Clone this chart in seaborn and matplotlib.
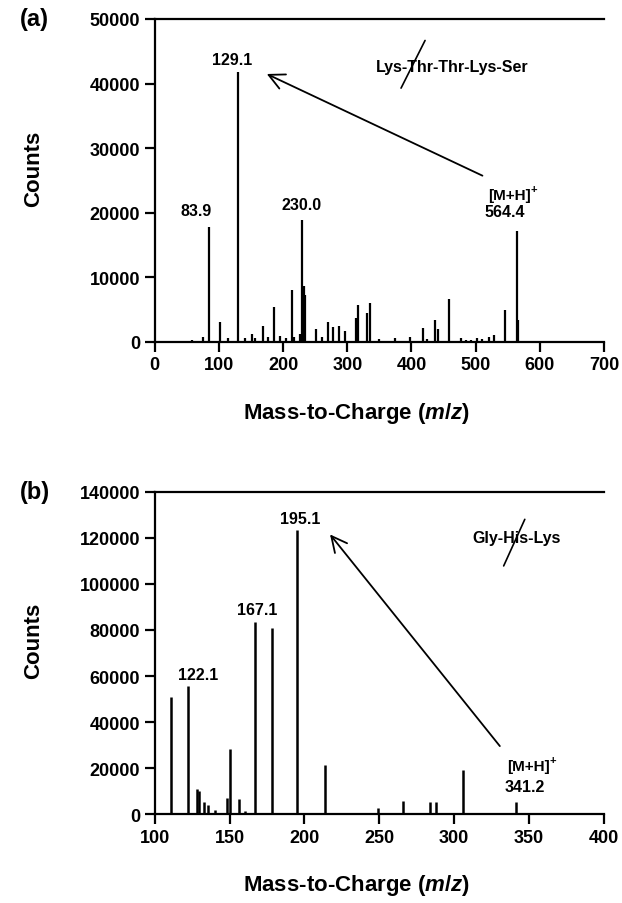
import numpy as np
import pandas as pd
import matplotlib
matplotlib.use("Agg")
import matplotlib.pyplot as plt
import seaborn as sns

# ---------------- data ----------------
# Panel (a): Lys-Thr-Thr-Lys-Ser
mz_a = [57.6, 75.0, 83.9, 101.7, 113.6, 129.1, 140.6, 151.5, 155.8, 168.1, 176.0,
        185.4, 195.7, 204.0, 213.4, 217.0, 226.3, 230.0, 232.6, 234.6, 251.4, 260.0,
        269.5, 277.8, 287.0, 296.0, 313.5, 317.2, 331.2, 335.4, 348.9, 373.8, 397.7,
        418.0, 423.7, 436.1, 440.8, 458.9, 477.6, 485.0, 492.0, 502.0, 510.0, 520.4,
        528.6, 546.3, 564.4, 566.6]
counts_a = [300, 780, 17800, 3060, 620, 41800, 620, 1190, 500, 2430, 670,
            5330, 830, 600, 7970, 770, 1190, 18800, 8700, 7250, 1970, 670,
            3060, 2280, 2480, 1660, 3680, 5750, 4450, 6060, 400, 620, 780,
            2070, 400, 3360, 1910, 6570, 620, 260, 260, 520, 360, 780,
            1030, 4870, 17100, 3300]

# Panel (b): Gly-His-Lys
mz_b = [110.7, 122.1, 128.2, 129.5, 133.0, 135.5, 140.0, 148.0, 150.5, 156.0, 160.0,
        167.1, 178.5, 195.1, 213.7, 249.0, 266.0, 284.0, 288.0, 306.0, 341.2]
counts_b = [50800, 55600, 11000, 10000, 5500, 4000, 2000, 7000, 28400, 6500, 1500,
            83300, 80700, 123400, 21400, 2800, 6000, 5500, 5500, 19300, 5500]

xticks_a = [0, 100, 200, 300, 400, 500, 600, 700]
yticks_a = [0, 10000, 20000, 30000, 40000, 50000]
xticks_b = [100, 150, 200, 250, 300, 350, 400]
yticks_b = [0, 20000, 40000, 60000, 80000, 100000, 120000, 140000]

peak_labels_a = ["83.9", "129.1", "230.0"]
peak_labels_b = ["122.1", "167.1", "195.1"]

# ---------------- style ----------------
sns.set_style("ticks")
plt.rcParams['font.family'] = ['Liberation Sans', 'DejaVu Sans']
plt.rcParams['font.weight'] = 'bold'
plt.rcParams['axes.labelweight'] = 'bold'
plt.rcParams['text.color'] = 'black'
plt.rcParams['axes.labelcolor'] = 'black'
plt.rcParams['xtick.color'] = 'black'
plt.rcParams['ytick.color'] = 'black'
plt.rcParams['mathtext.fontset'] = 'custom'
plt.rcParams['mathtext.rm'] = 'Liberation Sans:bold'
plt.rcParams['mathtext.bf'] = 'Liberation Sans:bold'
plt.rcParams['mathtext.it'] = 'Liberation Sans:italic:bold'

fig = plt.figure(figsize=(6.22, 9.04), dpi=100)
ax_a = fig.add_axes([0.2487, 0.6209, 0.7224, 0.3570])
ax_b = fig.add_axes([0.2487, 0.0980, 0.7224, 0.3570])

df_a = pd.DataFrame({"mz": mz_a, "counts": counts_a})
df_b = pd.DataFrame({"mz": mz_b, "counts": counts_b})

tick_fs = 13
lab_fs = 16

def style_axes(ax, xticks, yticks):
    for side in ["left", "bottom", "top"]:
        ax.spines[side].set_linewidth(1.6)
        ax.spines[side].set_color("black")
    ax.spines["right"].set_visible(False)
    ax.set_xticks(xticks)
    ax.set_yticks(yticks)
    ax.set_xlim(xticks[0], xticks[-1])
    ax.set_ylim(yticks[0], yticks[-1])
    ax.tick_params(axis="both", direction="out", length=7, width=1.6,
                   labelsize=tick_fs, colors="black")
    for lbl in ax.get_xticklabels() + ax.get_yticklabels():
        lbl.set_fontweight("bold")
    ax.set_ylabel("Counts", fontsize=lab_fs, fontweight="bold")
    ax.yaxis.set_label_coords(-0.245, 0.54)
    ax.set_xlabel(r"Mass-to-Charge ($\mathit{m/z}$)", fontsize=lab_fs,
                  fontweight="bold")
    ax.xaxis.set_label_coords(0.45, -0.18)

def mh_label(ax, x, y):
    t = ax.text(x, y, "[M+H]", fontsize=11, fontweight="bold",
                ha="left", va="center")
    ax.annotate("+", xy=(1.0, 0.95), xycoords=t, fontsize=8,
                fontweight="bold", ha="left", va="center")

txt = dict(fontsize=11.5, fontweight="bold", ha="center", va="center")

# ----- panel (a) -----
ax_a.vlines(df_a["mz"], 0, df_a["counts"], color="black", lw=1.6)
style_axes(ax_a, xticks_a, yticks_a)
ax_a.text(64.3, 20300, peak_labels_a[0], **txt)
ax_a.text(120.9, 43700, peak_labels_a[1], **txt)
ax_a.text(229.4, 21200, peak_labels_a[2], **txt)
mh_label(ax_a, 519, 22700)
ax_a.text(545.8, 20100, "564.4", **txt)
ax_a.text(344.7, 42600, "Lys-Thr-Thr-Lys-Ser", fontsize=11.5, fontweight="bold",
          ha="left", va="center")
ax_a.plot([383.8, 421.2], [39290, 46670], color="black", lw=1.2)
ax_a.annotate("", xy=(170.7, 41660), xytext=(514.5, 25540),
              arrowprops=dict(arrowstyle="->", lw=1.3, color="black",
                              mutation_scale=28))
fig.text(0.032, 0.978, "(a)", fontsize=17, fontweight="bold", va="center")

# ----- panel (b) -----
ax_b.vlines(df_b["mz"], 0, df_b["counts"], color="black", lw=1.8)
style_axes(ax_b, xticks_b, yticks_b)
ax_b.text(128.7, 60900, peak_labels_b[0], **txt)
ax_b.text(168.1, 89100, peak_labels_b[1], **txt)
ax_b.text(197.0, 128200, peak_labels_b[2], **txt)
mh_label(ax_b, 335, 20800)
ax_b.text(347, 11900, "341.2", **txt)
ax_b.text(311.8, 120200, "Gly-His-Lys", fontsize=11.5, fontweight="bold",
          ha="left", va="center")
ax_b.plot([333.0, 347.1], [107800, 128000], color="black", lw=1.2)
ax_b.annotate("", xy=(215.9, 122400), xytext=(331.6, 28700),
              arrowprops=dict(arrowstyle="->", lw=1.3, color="black",
                              mutation_scale=28))
fig.text(0.032, 0.455, "(b)", fontsize=17, fontweight="bold", va="center")

fig.savefig("out.png", dpi=100)
